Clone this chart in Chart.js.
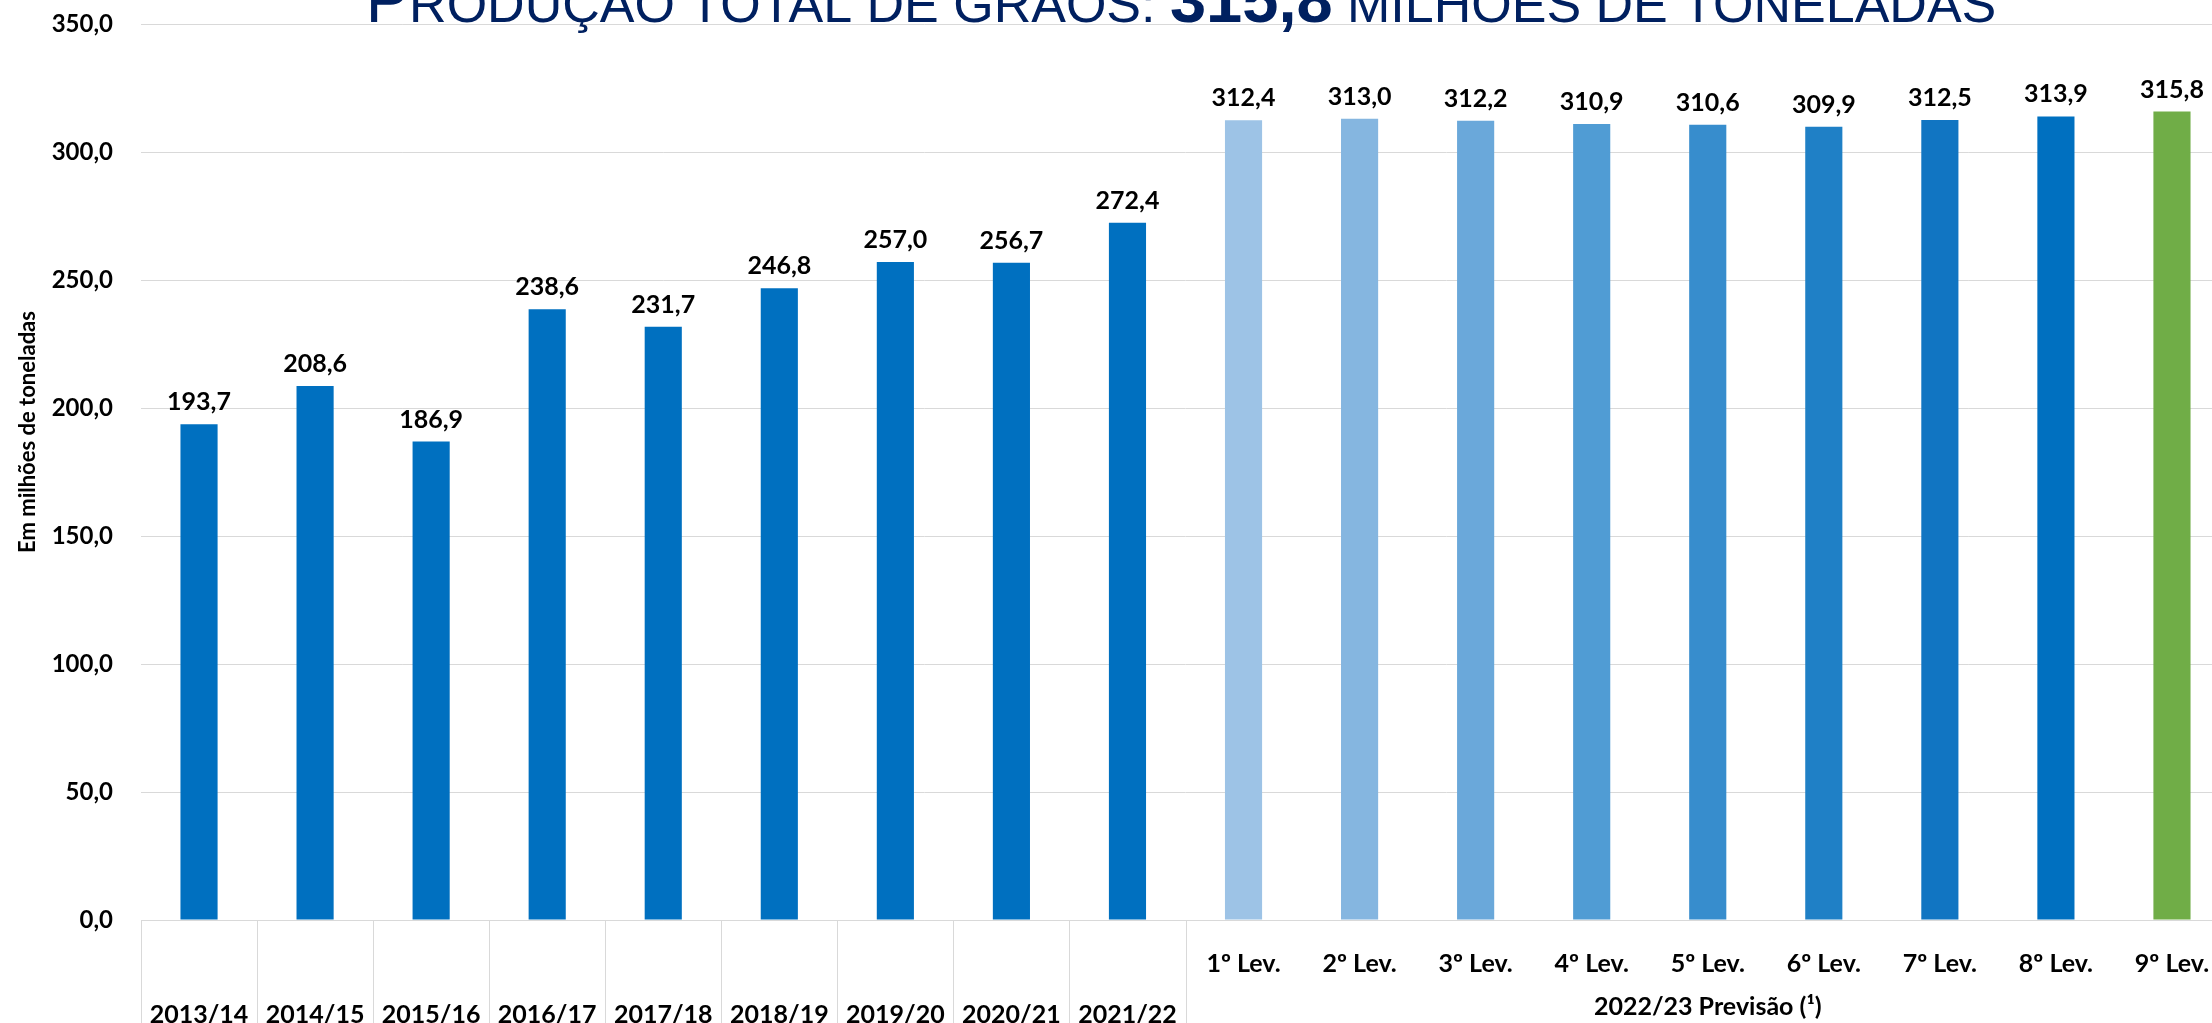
<!DOCTYPE html>
<html>
<head>
<meta charset="utf-8">
<script src="https://cdn.jsdelivr.net/npm/chart.js@4.4.0/dist/chart.umd.min.js"></script>
<style>
    html, body { margin: 0; padding: 0; background: #ffffff; overflow: hidden; }
    #wrap { position: relative; width: 2230px; height: 1023px; }
</style>
</head>
<body>
<div id="wrap"><canvas id="graos"></canvas></div>
<script>
// safras anteriores
const yearLabels = ['2013/14', '2014/15', '2015/16', '2016/17', '2017/18', '2018/19', '2019/20', '2020/21', '2021/22'];
const yearValues = [193.7, 208.6, 186.9, 238.6, 231.7, 246.8, 257.0, 256.7, 272.4];

// levantamentos 2022/23
const levLabels = ['1º Lev.', '2º Lev.', '3º Lev.', '4º Lev.', '5º Lev.', '6º Lev.', '7º Lev.', '8º Lev.', '9º Lev.'];
const levValues = [312.4, 313.0, 312.2, 310.9, 310.6, 309.9, 312.5, 313.9, 315.8];

const groupLabel = '2022/23 Previsão (¹)';
const yAxisTitle = 'Em milhões de toneladas';
const yMin = 0, yMax = 350, yStep = 50;

const yearColor = '#0070C0';
const levColors = ['#9DC3E6', '#85B6E0', '#6AA8DA', '#509CD4', '#378DCD', '#1F80C6', '#1175C2', '#0070C0', '#70AD47'];

const LABEL_FONT = 'Lato, "Open Sans", sans-serif';
const fmt = v => v.toFixed(1).replace('.', ',');

const labels = yearLabels.map(l => ['', l]).concat(levLabels.map(l => [l, '']));
const values = yearValues.concat(levValues);
const colors = yearLabels.map(() => yearColor).concat(levColors);

// titulo, rotulos de dados, separadores e rotulo do grupo
const extrasPlugin = {
    id: 'extras',
    afterDraw(chart) {
        const ctx = chart.ctx;
        const xs = chart.scales.x;
        const area = chart.chartArea;
        const half = (xs.getPixelForValue(1) - xs.getPixelForValue(0)) / 2;

        ctx.save();

        // separadores das categorias (só safras + início da previsão)
        ctx.strokeStyle = '#d9d9d9';
        ctx.lineWidth = 1;
        for (let i = 0; i <= yearLabels.length; i++) {
            const x = Math.round(xs.getPixelForValue(i) - half) + 0.5;
            ctx.beginPath();
            ctx.moveTo(x, area.bottom);
            ctx.lineTo(x, chart.height);
            ctx.stroke();
        }

        // rótulo do grupo
        const first = yearLabels.length;
        const last = labels.length - 1;
        const gx = (xs.getPixelForValue(first) + xs.getPixelForValue(last)) / 2;
        ctx.fillStyle = '#000000';
        ctx.font = `bold 25px ${LABEL_FONT}`;
        ctx.textAlign = 'center';
        ctx.textBaseline = 'middle';
        ctx.fillText(groupLabel, gx, 1007);

        // rótulos de dados
        const meta = chart.getDatasetMeta(0);
        ctx.textBaseline = 'alphabetic';
        meta.data.forEach((bar, i) => {
            ctx.fillText(fmt(values[i]), bar.x, bar.y - 14);
        });

        // título do eixo y
        ctx.save();
        ctx.translate(28, 432);
        ctx.rotate(-Math.PI / 2);
        ctx.font = `bold 22px ${LABEL_FONT}`;
        ctx.textBaseline = 'middle';
        ctx.fillText(yAxisTitle, 0, 0);
        ctx.restore();

        // título em versalete
        const big = 65, small = 52;
        const parts = [
            ['P', `${big}px "Liberation Sans", Arial, sans-serif`],
            ['RODUÇÃO TOTAL DE GRÃOS: ', `${small}px "Liberation Sans", Arial, sans-serif`],
            ['315,8', `bold ${big}px "Liberation Sans", Arial, sans-serif`],
            [' MILHÕES DE TONELADAS', `${small}px "Liberation Sans", Arial, sans-serif`]
        ];
        let total = 0;
        parts.forEach(p => { ctx.font = p[1]; total += ctx.measureText(p[0]).width; });
        let tx = 1181 - total / 2;
        ctx.fillStyle = '#002060';
        ctx.textAlign = 'left';
        parts.forEach(p => {
            ctx.font = p[1];
            ctx.fillText(p[0], tx, 22);
            tx += ctx.measureText(p[0]).width;
        });

        ctx.restore();
    }
};

new Chart(document.getElementById('graos'), {
    type: 'bar',
    data: {
        labels: labels,
        datasets: [{
            data: values,
            backgroundColor: colors,
            borderWidth: 0,
            barPercentage: 0.32,
            categoryPercentage: 1.0
        }]
    },
    options: {
        responsive: true,
        maintainAspectRatio: false,
        animation: false,
        layout: { padding: { top: 24, left: 0, right: 0, bottom: 0 } },
        plugins: {
            legend: { display: false },
            tooltip: { enabled: false },
            title: { display: false }
        },
        scales: {
            x: {
                afterFit: scale => { scale.height = 103; scale.paddingLeft = 0; scale.paddingRight = 0; },
                grid: { display: false },
                border: { display: true, color: '#d9d9d9', width: 1 },
                ticks: {
                    autoSkip: false,
                    maxRotation: 0,
                    padding: 10,
                    color: '#000000',
                    font: { family: LABEL_FONT, size: 25, weight: 'bold', lineHeight: 51 / 25 }
                }
            },
            y: {
                min: yMin,
                max: yMax,
                afterFit: scale => { scale.width = 141; scale.paddingTop = 0; scale.paddingBottom = 0; },
                grid: { color: '#d9d9d9', drawTicks: false },
                border: { display: false },
                ticks: {
                    stepSize: yStep,
                    padding: 28,
                    color: '#000000',
                    font: { family: LABEL_FONT, size: 24, weight: 'bold' },
                    callback: v => fmt(v)
                }
            }
        }
    },
    plugins: [extrasPlugin]
});
</script>
</body>
</html>
